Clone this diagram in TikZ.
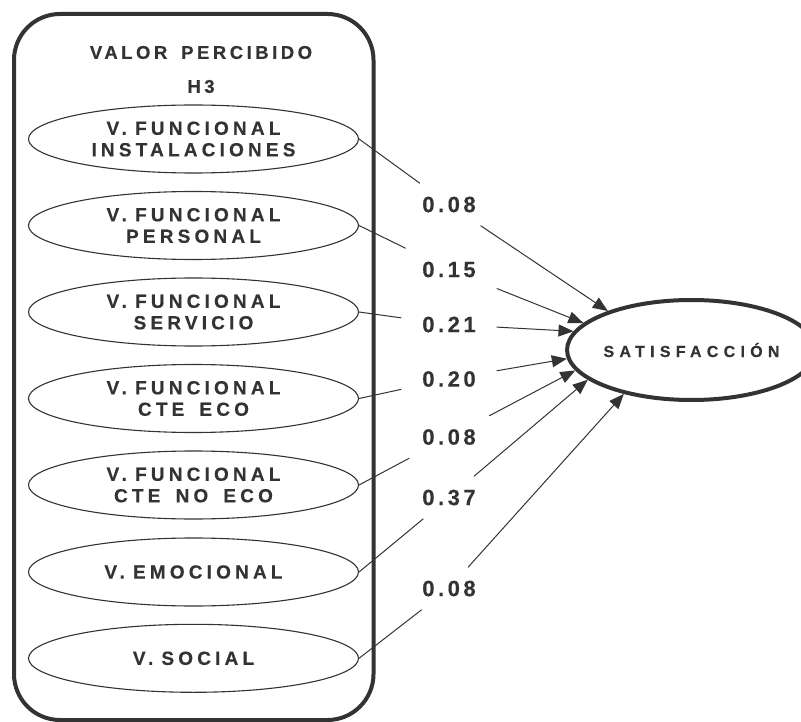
\documentclass[tikz,border=0pt]{standalone}
\usepackage{fontspec}
\setmainfont{Liberation Sans}
\newfontfamily\titlefont[LetterSpace=19,WordSpace=1.6,FakeBold=0.4]{Liberation Sans Bold}
\newfontfamily\varfont[LetterSpace=22,WordSpace=1.6,FakeBold=0.4]{Liberation Sans Bold}
\newfontfamily\coeffont[LetterSpace=16,FakeBold=0.4]{Liberation Sans Bold}
\newfontfamily\satfont[LetterSpace=33,FakeBold=0.4]{Liberation Sans Bold}
\usetikzlibrary{shapes.geometric,arrows.meta}
\definecolor{ink}{HTML}{333333}
\begin{document}
\begin{tikzpicture}[x=1pt,y=-1pt,
  frame/.style={rectangle, draw=ink, line width=4pt, rounded corners=46pt,
    minimum width=359.5pt, minimum height=706pt, inner sep=0pt},
  titletext/.style={inner sep=0pt, text=ink,
    font={\titlefont\fontsize{18.5}{21}\selectfont}},
  var/.style={ellipse, draw=ink, line width=1.1pt, minimum width=330pt,
    minimum height=68pt, inner sep=0pt, align=center, text=ink,
    font={\varfont\fontsize{19}{21.5}\selectfont}},
  sat/.style={ellipse, draw=ink, line width=4pt, minimum width=213pt,
    minimum height=100pt, inner sep=0pt, text=ink,
    font={\satfont\fontsize{16}{18}\selectfont}},
  coef/.style={rectangle, minimum width=95pt, minimum height=42pt,
    inner sep=0pt, text=ink,
    font={\coeffont\fontsize{22}{24}\selectfont}},
  link/.style={draw=ink, line width=1pt},
  arr/.style={link, -{Triangle[length=15pt,width=12pt]}}
]
\useasboundingbox (0,0) rectangle (801,722);

\node[frame] (box) at (193.75,367) {};
\node[titletext] (title) at (201,52.5) {VALOR PERCIBIDO};
\node[titletext] (h3) at (201,86.5) {H3};

\node[var] (e1) at (193.5,139)   {V.\kern-7pt\ FUNCIONAL\\INSTALACIONES};
\node[var] (e2) at (193.5,225.5) {V.\kern-7pt\ FUNCIONAL\\PERSONAL};
\node[var] (e3) at (193.5,312)   {V.\kern-7pt\ FUNCIONAL\\SERVICIO};
\node[var] (e4) at (193.5,398.5) {V.\kern-7pt\ FUNCIONAL\\CTE ECO};
\node[var] (e5) at (193.5,485)   {V.\kern-7pt\ FUNCIONAL\\CTE NO ECO};
\node[var] (e6) at (193.5,572)   {V.\kern-7pt\ EMOCIONAL};
\node[var] (e7) at (193.5,658.3) {V.\kern-7pt\ SOCIAL};

\node[sat] (s) at (691.5,350) {SATISFACCIÓN};

\node[coef] (c1) at (449,204.5) {0.08};
\node[coef] (c2) at (449,269.5) {0.15};
\node[coef] (c3) at (449,324.5) {0.21};
\node[coef] (c4) at (449,379)   {0.20};
\node[coef] (c5) at (449,437)   {0.08};
\node[coef] (c6) at (449,497.5) {0.37};
\node[coef] (c7) at (449,588.5) {0.08};

\draw[link] (e1.east) -- (c1);
\draw[arr]  (c1) -- (s.155);
\draw[link] (e2.east) -- (c2);
\draw[arr]  (c2) -- (s.166);
\draw[link] (e3.east) -- (c3);
\draw[arr]  (c3) -- (s.171);
\draw[link] (e4.east) -- (c4);
\draw[arr]  (c4) -- (s.184);
\draw[link] (e5.east) -- (c5);
\draw[arr]  (c5) -- (s.190);
\draw[link] (e6.east) -- (c6);
\draw[arr]  (c6) -- (s.196);
\draw[link] (e7.east) -- (c7);
\draw[arr]  (c7) -- (s.213);
\end{tikzpicture}
\end{document}
